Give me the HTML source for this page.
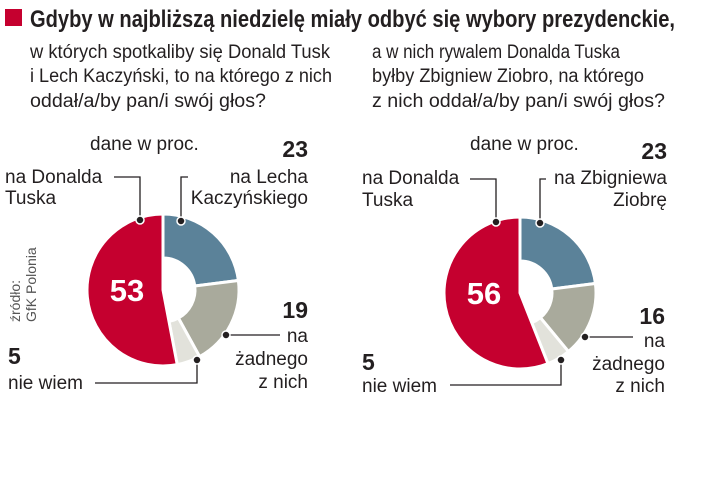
<!DOCTYPE html>
<html><head><meta charset="utf-8">
<style>
body{margin:0;background:#fff;}
svg text{font-family:"Liberation Sans Narrow","Liberation Sans",sans-serif;fill:#231f20;}
</style></head>
<body>
<svg id="chart" width="720" height="484" viewBox="0 0 720 484">
<rect x="5" y="9" width="17" height="17" fill="#c5002f"/>
<text x="30" y="27" font-size="24" font-weight="bold" textLength="645" lengthAdjust="spacingAndGlyphs">Gdyby w najbliższą niedzielę miały odbyć się wybory prezydenckie,</text>
<g font-size="19">
<text x="30" y="58" textLength="300" lengthAdjust="spacingAndGlyphs">w których spotkaliby się Donald Tusk</text>
<text x="30" y="82" textLength="302" lengthAdjust="spacingAndGlyphs">i Lech Kaczyński, to na którego z nich</text>
<text x="30" y="107" textLength="236" lengthAdjust="spacingAndGlyphs">oddał/a/by pan/i swój głos?</text>
</g>
<g font-size="19">
<text x="372" y="58" textLength="248" lengthAdjust="spacingAndGlyphs">a w nich rywalem Donalda Tuska</text>
<text x="372" y="82" textLength="272" lengthAdjust="spacingAndGlyphs">byłby Zbigniew Ziobro, na którego</text>
<text x="372" y="107" textLength="293" lengthAdjust="spacingAndGlyphs">z nich oddał/a/by pan/i swój głos?</text>
</g>
<g transform="translate(20,322) rotate(-90)" font-size="14">
<text x="0" y="0" style="fill:#555">źródło:</text>
<text x="0" y="16" style="fill:#555">GfK Polonia</text>
</g>
<g id="left"></g>
<g id="right"></g>
<g font-size="19">
<text x="90" y="150">dane w proc.</text>
<text x="308" y="157" text-anchor="end" font-size="23" font-weight="bold" font-family="Liberation Sans">23</text>
<text x="308" y="183" text-anchor="end">na Lecha</text>
<text x="308" y="204" text-anchor="end">Kaczyńskiego</text>
<text x="5" y="183">na Donalda</text>
<text x="5" y="204">Tuska</text>
<text x="308" y="318" text-anchor="end" font-size="23" font-weight="bold" font-family="Liberation Sans">19</text>
<text x="308" y="342" text-anchor="end">na</text>
<text x="308" y="365" text-anchor="end">żadnego</text>
<text x="308" y="388" text-anchor="end">z nich</text>
<text x="8" y="364" font-size="23" font-weight="bold" font-family="Liberation Sans">5</text>
<text x="8" y="389">nie wiem</text>
</g>
<g fill="none" stroke="#231f20" stroke-width="1.3">
<polyline points="114,177 140,177 140,220"/>
<polyline points="188,177 181,177 181,221"/>
<polyline points="226,335 280,335"/>
<polyline points="95,383 197,383 197,360"/>
</g>
<g fill="#231f20" stroke="#fff" stroke-width="1.5">
<circle cx="140" cy="220" r="4"/><circle cx="181" cy="221" r="4"/><circle cx="226" cy="335" r="4"/><circle cx="197" cy="360" r="4"/>
</g>
<g font-size="19">
<text x="470" y="150">dane w proc.</text>
<text x="667" y="159" text-anchor="end" font-size="23" font-weight="bold" font-family="Liberation Sans">23</text>
<text x="667" y="184" text-anchor="end">na Zbigniewa</text>
<text x="667" y="206" text-anchor="end">Ziobrę</text>
<text x="362" y="184">na Donalda</text>
<text x="362" y="206">Tuska</text>
<text x="665" y="324" text-anchor="end" font-size="23" font-weight="bold" font-family="Liberation Sans">16</text>
<text x="665" y="347" text-anchor="end">na</text>
<text x="665" y="370" text-anchor="end">żadnego</text>
<text x="665" y="392" text-anchor="end">z nich</text>
<text x="362" y="370" font-size="23" font-weight="bold" font-family="Liberation Sans">5</text>
<text x="362" y="392">nie wiem</text>
</g>
<g fill="none" stroke="#231f20" stroke-width="1.3">
<polyline points="470,179 496,179 496,222"/>
<polyline points="546,179 540,179 540,223"/>
<polyline points="585,337 633,337"/>
<polyline points="450,385 561,385 561,360"/>
</g>
<g fill="#231f20" stroke="#fff" stroke-width="1.5">
<circle cx="496" cy="222" r="4"/><circle cx="540" cy="223" r="4"/><circle cx="585" cy="337" r="4"/><circle cx="561" cy="360" r="4"/>
</g>
</svg>
<script>
const categories = ["Kaczyński/Ziobro", "żadnego", "nie wiem", "Tusk"];
const leftValues = [23, 19, 5, 53];
const rightValues = [23, 16, 5, 56];
const colors = ["#5b8299", "#a9aa9c", "#e2e2db", "#c5002f"];
function polar(cx, cy, r, a){ return [cx + r*Math.sin(a), cy - r*Math.cos(a)]; }
function drawDonut(g, cx, cy, values){
  const total = values.reduce((s,v)=>s+v,0);
  const R = 76;
  const last = values.length - 1;
  let a0 = 0;
  values.forEach((v,i)=>{
    const r = i === last ? 0.01 : 32;
    const a1 = a0 + v/total*2*Math.PI;
    const large = (a1-a0) > Math.PI ? 1 : 0;
    const p1 = polar(cx,cy,R,a0), p2 = polar(cx,cy,R,a1), p3 = polar(cx,cy,r,a1), p4 = polar(cx,cy,r,a0);
    const d = `M${p1}A${R},${R} 0 ${large} 1 ${p2}L${p3}A${r},${r} 0 ${large} 0 ${p4}Z`;
    const p = document.createElementNS("http://www.w3.org/2000/svg","path");
    p.setAttribute("d", d);
    p.setAttribute("fill", colors[i]);
    p.setAttribute("stroke", "#fff");
    p.setAttribute("stroke-width", "3");
    
    
    g.appendChild(p);
    a0 = a1;
  });
  const lt = document.createElementNS("http://www.w3.org/2000/svg","text");
  lt.setAttribute("x", cx - 36); lt.setAttribute("y", cy + 11);
  lt.setAttribute("text-anchor", "middle");
  lt.setAttribute("font-size", "31"); lt.setAttribute("font-weight", "bold");
  lt.setAttribute("font-family", "Liberation Sans");
  lt.setAttribute("style", "fill:#fff");
  lt.textContent = values[last];
  
  
  g.appendChild(lt);
}
drawDonut(document.getElementById("left"), 163, 290, leftValues);
drawDonut(document.getElementById("right"), 520, 293, rightValues);
</script>
</body></html>
